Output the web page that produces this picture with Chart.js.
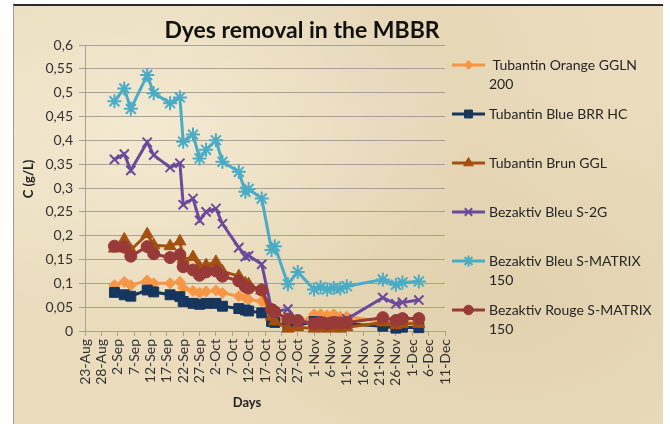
<!DOCTYPE html>
<html>
<head>
<meta charset="utf-8">
<script src="https://cdn.jsdelivr.net/npm/chart.js@4.4.0/dist/chart.umd.min.js"></script>
<style>
  html, body { margin: 0; padding: 0; background: #fff; }
  #frame {
    position: absolute; left: 13px; top: 4px; width: 650px; height: 420px;
    box-sizing: border-box;
    border-top: 2px solid #2b2b2b; border-left: 1px solid #9a9a9a;
    background: #eadcbd;
    background-image:
      radial-gradient(ellipse at 20% 30%, rgba(255,250,235,0.45), rgba(255,250,235,0) 45%),
      radial-gradient(ellipse at 75% 70%, rgba(205,183,140,0.3), rgba(205,183,140,0) 50%),
      radial-gradient(ellipse at 60% 15%, rgba(215,195,160,0.25), rgba(215,195,160,0) 40%);
  }
  #wrap { position: absolute; left: 0; top: 0; width: 670px; height: 424px; }
</style>
</head>
<body>
<div id="frame"></div>
<div id="wrap"><canvas id="chart" width="670" height="424"></canvas></div>
<script>
// sampling dates
const sampleDates = [
  '2011-09-01', '2011-09-04', '2011-09-06', '2011-09-11', '2011-09-13', '2011-09-18',
  '2011-09-21', '2011-09-22', '2011-09-25', '2011-09-27', '2011-09-29', '2011-10-02',
  '2011-10-04', '2011-10-09', '2011-10-11', '2011-10-12', '2011-10-16', '2011-10-19',
  '2011-10-20', '2011-10-24', '2011-10-27', '2011-11-01', '2011-11-03', '2011-11-05',
  '2011-11-07', '2011-11-09', '2011-11-11', '2011-11-22', '2011-11-26', '2011-11-28',
  '2011-12-03'
];
const startDate = '2011-08-23';

// x axis labels, one every 5 days from 23-Aug
const dayTicks = ['23-Aug', '28-Aug', '2-Sep', '7-Sep', '12-Sep', '17-Sep', '22-Sep', '27-Sep',
  '2-Oct', '7-Oct', '12-Oct', '17-Oct', '22-Oct', '27-Oct', '1-Nov', '6-Nov', '11-Nov',
  '16-Nov', '21-Nov', '26-Nov', '1-Dec', '6-Dec', '11-Dec'];

// concentrations C (g/L)
const tubantinOrange = [0.096, 0.103, 0.096, 0.106, 0.100, 0.100, 0.103, 0.090, 0.084, 0.080,
  0.083, 0.085, 0.080, 0.073, 0.070, 0.066, 0.062, 0.040, 0.035, 0.010, 0.015, 0.035, 0.035,
  0.033, 0.035, 0.030, 0.030, 0.020, 0.015, 0.020, 0.015];
const tubantinBlue = [0.081, 0.076, 0.073, 0.086, 0.082, 0.076, 0.072, 0.062, 0.058, 0.056,
  0.058, 0.058, 0.052, 0.047, 0.044, 0.042, 0.038, 0.020, 0.018, 0.010, 0.012, 0.020, 0.018,
  0.016, 0.018, 0.015, 0.015, 0.010, 0.006, 0.008, 0.007];
const tubantinBrun = [0.173, 0.192, 0.170, 0.203, 0.180, 0.178, 0.188, 0.150, 0.155, 0.135,
  0.138, 0.145, 0.125, 0.115, 0.100, 0.098, 0.085, 0.030, 0.020, 0.005, 0.008, 0.005, 0.006,
  0.005, 0.006, 0.005, 0.008, 0.018, 0.012, 0.015, 0.015];
const bezaktivBleu2G = [0.360, 0.371, 0.337, 0.396, 0.369, 0.343, 0.352, 0.265, 0.278, 0.232,
  0.250, 0.257, 0.225, 0.175, 0.156, 0.158, 0.140, 0.045, 0.040, 0.046, 0.020, 0.018, 0.020,
  0.018, 0.020, 0.020, 0.025, 0.070, 0.057, 0.060, 0.065];
const bezaktivBleuMatrix = [0.482, 0.509, 0.466, 0.537, 0.499, 0.478, 0.490, 0.397, 0.412, 0.362,
  0.380, 0.400, 0.355, 0.334, 0.292, 0.298, 0.278, 0.170, 0.178, 0.098, 0.124, 0.087, 0.092,
  0.087, 0.090, 0.089, 0.094, 0.108, 0.097, 0.102, 0.104];
const bezaktivRouge = [0.178, 0.176, 0.157, 0.177, 0.162, 0.154, 0.160, 0.135, 0.128, 0.117,
  0.124, 0.126, 0.115, 0.105, 0.093, 0.090, 0.086, 0.045, 0.040, 0.025, 0.022, 0.015, 0.018,
  0.015, 0.018, 0.017, 0.018, 0.028, 0.022, 0.026, 0.026];

const seriesNames = [
  [' Tubantin Orange GGLN', '200'],
  ['Tubantin Blue BRR HC'],
  ['Tubantin Brun GGL'],
  ['Bezaktiv Bleu S-2G'],
  ['Bezaktiv Bleu S-MATRIX', '150'],
  ['Bezaktiv Rouge S-MATRIX', '150']
];

const t0 = new Date(startDate).getTime();
const dayNums = sampleDates.map(d => Math.round((new Date(d).getTime() - t0) / 86400000));

function makeSeries(i, values, color, style, radius, order) {
  const thin = style === 'crossRot' || style === 'star';
  return {
    label: seriesNames[i].join(' ').trim(),
    data: values.map((v, k) => ({ x: dayNums[k], y: v })),
    borderColor: color,
    backgroundColor: color,
    pointBackgroundColor: color,
    pointBorderColor: color,
    pointStyle: style,
    pointRadius: radius,
    pointBorderWidth: thin ? 2 : 1,
    borderWidth: 3,
    tension: 0,
    clip: false,
    order: order
  };
}

const datasets = [
  makeSeries(0, tubantinOrange, '#f79646', 'rectRot', 5.5, 6),
  makeSeries(1, tubantinBlue, '#17365d', 'rect', 7, 5),
  makeSeries(2, tubantinBrun, '#a4500f', 'triangle', 7, 4),
  makeSeries(3, bezaktivBleu2G, '#6b4a9c', 'crossRot', 6.5, 3),
  makeSeries(4, bezaktivBleuMatrix, '#4bacc6', 'star', 7, 2),
  makeSeries(5, bezaktivRouge, '#983a38', 'circle', 6, 1)
];

const gridColor = '#a6a298';
const textColor = '#333333';

// title, axis titles and the legend on the right
const decorations = {
  id: 'decorations',
  afterDraw(chart) {
    const { ctx, chartArea } = chart;
    ctx.save();
    ctx.fillStyle = '#111';
    ctx.font = 'bold 23px Lato';
    ctx.textAlign = 'center';
    ctx.textBaseline = 'alphabetic';
    ctx.fillText('Dyes removal in the MBBR', 302, 38);

    ctx.fillStyle = '#222';
    ctx.font = 'bold 13px Lato';
    ctx.textBaseline = 'middle';
    ctx.fillText('Days', 247, 403);
    ctx.save();
    ctx.translate(29, 179);
    ctx.rotate(-Math.PI / 2);
    ctx.fillText('C (g/L)', 0, 0);
    ctx.restore();

    const x0 = chartArea.right + 7;
    chart.data.datasets.forEach((ds, i) => {
      const y = chartArea.top + 20 + i * 49;
      ctx.strokeStyle = ds.borderColor;
      ctx.fillStyle = ds.borderColor;
      ctx.lineWidth = 3;
      ctx.beginPath();
      ctx.moveTo(x0, y);
      ctx.lineTo(x0 + 33, y);
      ctx.stroke();
      ctx.lineWidth = ds.pointBorderWidth;
      Chart.helpers.drawPoint(ctx, {
        pointStyle: ds.pointStyle, radius: ds.pointRadius * 0.8,
        borderWidth: ds.pointBorderWidth, rotation: 0
      }, x0 + 16.5, y);
      ctx.fillStyle = '#262626';
      ctx.font = '14px Lato';
      ctx.textAlign = 'left';
      ctx.textBaseline = 'middle';
      seriesNames[i].forEach((line, j) => ctx.fillText(line, x0 + 37, y + j * 19.5));
    });
    ctx.restore();
  }
};

new Chart(document.getElementById('chart'), {
  type: 'line',
  data: { datasets: datasets },
  plugins: [decorations],
  options: {
    responsive: false,
    animation: false,
    layout: { padding: { left: 13, top: 45, right: 225, bottom: 33 } },
    plugins: {
      legend: { display: false },
      title: { display: false },
      tooltip: { enabled: false }
    },
    scales: {
      x: {
        type: 'linear',
        min: 0,
        max: 110,
        afterFit: s => { s.height = 60; },
        grid: { drawOnChartArea: false, drawTicks: true, tickLength: 5, color: gridColor },
        border: { display: true, color: gridColor },
        ticks: {
          stepSize: 5,
          autoSkip: false,
          maxRotation: 90,
          minRotation: 90,
          padding: 3,
          color: textColor,
          font: { family: 'Lato', size: 14 },
          callback: (v, i) => dayTicks[i]
        }
      },
      y: {
        min: 0,
        max: 0.6,
        afterFit: s => { s.width = 72; },
        grid: { color: gridColor, tickLength: 6, drawTicks: true },
        border: { display: true, color: gridColor },
        ticks: {
          stepSize: 0.05,
          padding: 6,
          color: textColor,
          font: { family: 'Lato', size: 14 },
          callback: v => v === 0 ? '0' : String(Math.round(v * 100) / 100).replace('.', ',')
        }
      }
    }
  }
});
</script>
</body>
</html>
